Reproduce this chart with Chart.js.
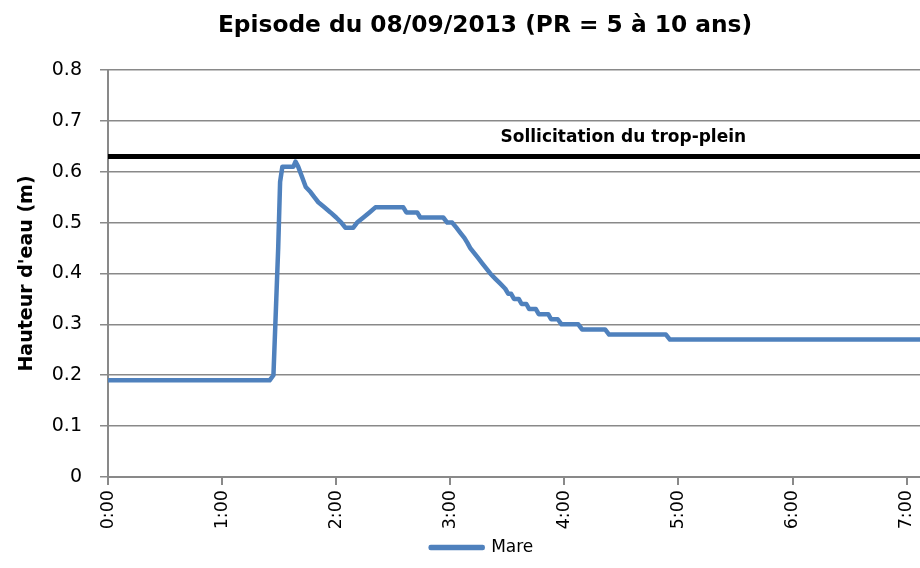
<!DOCTYPE html>
<html>
<head>
<meta charset="utf-8">
<script src="https://cdn.jsdelivr.net/npm/chart.js@4/dist/chart.umd.min.js"></script>
<style>
  html, body { margin: 0; padding: 0; background: #fff; }
  #wrap { width: 920px; height: 568px; position: relative; }
</style>
</head>
<body>
<div id="wrap"><canvas id="mare-chart"></canvas></div>
<script>
// temps en minutes depuis 0:00
const temps = [0, 85, 87, 88.5, 89.5, 90.5, 91.7, 97.5, 98.6, 100, 102, 104, 106.5, 108.5, 110.6, 113.8, 117, 120, 122.7, 124.8, 129, 131, 134.3, 137.5, 140.6, 155.3, 156.9, 162.6, 164.2, 176.3, 178.4, 181, 183.2, 185.3, 187.4, 189, 190.5, 192.6, 194.7, 196.8, 198.9, 201, 203.6, 206.3, 208.9, 210.5, 212, 213.5, 216, 217.5, 220, 221.5, 225, 226.5, 231.5, 233, 236.5, 238.5, 247.3, 249.3, 261.4, 263.5, 293.4, 295.5, 427];
// hauteur d'eau (m) - série "Mare"
const hauteurs = [0.19, 0.19, 0.20, 0.35, 0.45, 0.58, 0.61, 0.61, 0.62, 0.61, 0.59, 0.57, 0.56, 0.55, 0.54, 0.53, 0.52, 0.51, 0.50, 0.49, 0.49, 0.50, 0.51, 0.52, 0.53, 0.53, 0.52, 0.52, 0.51, 0.51, 0.50, 0.50, 0.49, 0.48, 0.47, 0.46, 0.45, 0.44, 0.43, 0.42, 0.41, 0.40, 0.39, 0.38, 0.37, 0.36, 0.36, 0.35, 0.35, 0.34, 0.34, 0.33, 0.33, 0.32, 0.32, 0.31, 0.31, 0.30, 0.30, 0.29, 0.29, 0.28, 0.28, 0.27, 0.27];

const tempsMax = 427;
const seuilTropPlein = 0.63;
const seuilLabel = 'Sollicitation du trop-plein';
const seuilLabelPos = { x: 271, y: 0.668 };

const FONT = "'DejaVu Sans', sans-serif";
const gris = '#898989';

const serieMare = temps.map((t, i) => ({ x: t, y: hauteurs[i] }));
const serieSeuil = [{ x: 0, y: seuilTropPlein }, { x: tempsMax, y: seuilTropPlein }];

// texte au-dessus de la ligne du trop-plein
const seuilTexte = {
  id: 'seuilTexte',
  afterDatasetsDraw(chart) {
    const { ctx, scales } = chart;
    ctx.save();
    ctx.font = `bold 17px ${FONT}`;
    ctx.fillStyle = '#000';
    ctx.textAlign = 'center';
    ctx.textBaseline = 'middle';
    ctx.fillText(seuilLabel, scales.x.getPixelForValue(seuilLabelPos.x), scales.y.getPixelForValue(seuilLabelPos.y));
    ctx.restore();
  }
};

// titre et légende décalés vers la droite (graphique d'origine rogné à droite)
const decalage = {
  id: 'decalage',
  afterLayout(chart) {
    chart.legend.left += 22;
    chart.legend.right += 22;
    chart.titleBlock.left += 25;
    chart.titleBlock.right += 25;
  }
};

new Chart(document.getElementById('mare-chart'), {
  type: 'line',
  data: {
    datasets: [
      {
        label: 'Mare',
        data: serieMare,
        borderColor: '#4F81BD',
        backgroundColor: '#4F81BD',
        borderWidth: 4.5,
        pointRadius: 0,
        tension: 0,
        borderJoinStyle: 'round',
        borderCapStyle: 'round'
      },
      {
        label: 'seuil',
        data: serieSeuil,
        borderColor: '#000',
        borderWidth: 5,
        pointRadius: 0
      }
    ]
  },
  options: {
    responsive: true,
    maintainAspectRatio: false,
    animation: false,
    layout: { padding: { left: 0, right: 0, top: 0, bottom: 2 } },
    plugins: {
      title: {
        display: true,
        text: 'Episode du 08/09/2013 (PR = 5 à 10 ans)',
        color: '#000',
        font: { family: FONT, size: 23.3, weight: 'bold' },
        padding: { top: 12, bottom: 30 }
      },
      legend: {
        position: 'bottom',
        labels: {
          color: '#000',
          font: { family: FONT, size: 17 },
          boxWidth: 52,
          boxHeight: 1,
          padding: 8,
          filter: item => item.text === 'Mare'
        }
      },
      tooltip: { enabled: false }
    },
    scales: {
      x: {
        type: 'linear',
        min: 0,
        max: tempsMax,
        afterFit: s => { s.height = 54; s.paddingRight = 0; s.paddingLeft = 0; },
        border: { display: true, color: gris, width: 2 },
        grid: { display: true, drawOnChartArea: false, drawTicks: true, tickLength: 8, color: gris, lineWidth: 2 },
        ticks: {
          stepSize: 60,
          includeBounds: false,
          minRotation: 90,
          maxRotation: 90,
          padding: 5,
          color: '#000',
          font: { family: FONT, size: 17.5 },
          callback: v => Math.floor(v / 60) + ':' + String(v % 60).padStart(2, '0')
        }
      },
      y: {
        min: 0,
        max: 0.8,
        afterFit: s => { s.width = 108; },
        border: { display: true, color: gris, width: 2 },
        grid: { color: gris, lineWidth: 1.5, tickLength: 8 },
        ticks: {
          stepSize: 0.1,
          padding: 18,
          color: '#000',
          font: { family: FONT, size: 19 },
          callback: v => String(+v.toFixed(1))
        },
        title: {
          display: true,
          text: "Hauteur d'eau (m)",
          color: '#000',
          font: { family: FONT, size: 19, weight: 'bold' },
          padding: { top: 16, bottom: 0 }
        }
      }
    }
  },
  plugins: [seuilTexte, decalage]
});
</script>
</body>
</html>
